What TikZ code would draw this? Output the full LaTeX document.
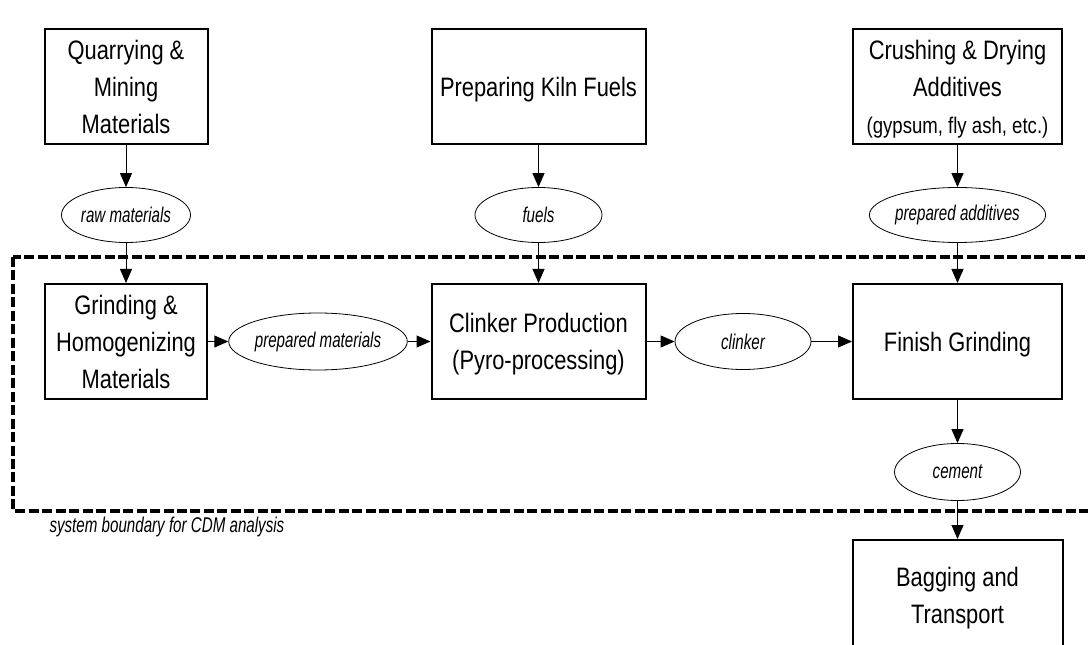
\documentclass[tikz,border=0pt]{standalone}
\usepackage{fontspec}
\setmainfont[FakeStretch=0.82]{Liberation Sans}
\newfontfamily\labelfont[FakeStretch=0.71]{Liberation Sans}
\usetikzlibrary{arrows.meta,shapes.geometric}

\tikzset{every picture/.style={line width=0.75pt}}
\tikzset{
  stage/.style={draw,line width=1.5pt,inner sep=0pt,align=center,text depth=0pt,
    font=\fontsize{20}{27.75}\selectfont},
  flow/.style={draw,ellipse,line width=0.6pt,inner sep=0pt,
    font=\labelfont\itshape\fontsize{16}{18}\selectfont},
  feed/.style={-{Triangle[length=10.5pt,width=9pt]},line width=0.75pt},
  boundary/.style={line width=3pt,dash pattern=on 7.5pt off 2.6pt},
}

\begin{document}
\begin{tikzpicture}[x=0.75pt,y=0.75pt,yscale=-1,xscale=1]
\useasboundingbox (0,0) rectangle (1088,645);
\clip (0,0) rectangle (1088,645);

%Shape: Rectangle (system boundary)
\draw[boundary] (13,257) rectangle (1110,510.5);

% Top row
\node[stage,minimum width=122.25pt,minimum height=86.25pt] (quarry) at (126,86.5) {Quarrying \&\\Mining\\Materials};
\node[stage,minimum width=160.5pt,minimum height=86.25pt] (kiln) at (538.5,86.5) {Preparing Kiln Fuels};
\node[stage,minimum width=156.75pt,minimum height=86.25pt] (crush) at (957.5,86.5) {Crushing \& Drying\\Additives\\{\fontsize{17}{27.75}\selectfont(gypsum, fly ash, etc.)}};

% Flows into the boundary
\node[flow,minimum width=96.75pt,minimum height=41.25pt] (raw) at (126,215) {raw materials};
\node[flow,minimum width=95.25pt,minimum height=41.25pt] (fuel) at (538.5,215) {fuels};
\node[flow,minimum width=117pt,minimum height=41.25pt] (addit) at (957.5,215) {prepared additives};

% Middle row
\node[stage,minimum width=121.5pt,minimum height=86.25pt] (grind) at (126,341.5) {Grinding \&\\Homogenizing\\Materials};
\node[stage,minimum width=160.5pt,minimum height=86.25pt] (clink) at (538.5,341.5) {Clinker Production\\(Pyro-processing)};
\node[stage,minimum width=156.75pt,minimum height=86.25pt] (finish) at (957.5,341.5) {Finish Grinding};
\node[flow,minimum width=117pt,minimum height=42.75pt] (prepm) at (318,341.5) {prepared materials};
\node[flow,minimum width=102pt,minimum height=42pt] (clinker) at (743,341.5) {clinker};

% Out of the boundary
\node[flow,minimum width=94.5pt,minimum height=42.75pt] (cement) at (957.5,472) {cement};
\node[stage,minimum width=157.5pt,minimum height=82.5pt] (bag) at (957.5,595) {Bagging and\\Transport};

% Text Node
\node[anchor=west,inner sep=0pt,font=\labelfont\itshape\fontsize{16}{18}\selectfont] (cdm) at (49,527) {system boundary for CDM analysis};

%Straight Lines
\draw[feed] (quarry) -- (raw);
\draw[feed] (raw) -- (grind);
\draw[feed] (kiln) -- (fuel);
\draw[feed] (fuel) -- (clink);
\draw[feed] (crush) -- (addit);
\draw[feed] (addit) -- (finish);
\draw[feed] (grind) -- (prepm);
\draw[feed] (prepm) -- (clink);
\draw[feed] (clink) -- (clinker);
\draw[feed] (clinker) -- (finish);
\draw[feed] (finish) -- (cement);
\draw[feed] (cement) -- (bag);
\end{tikzpicture}
\end{document}
